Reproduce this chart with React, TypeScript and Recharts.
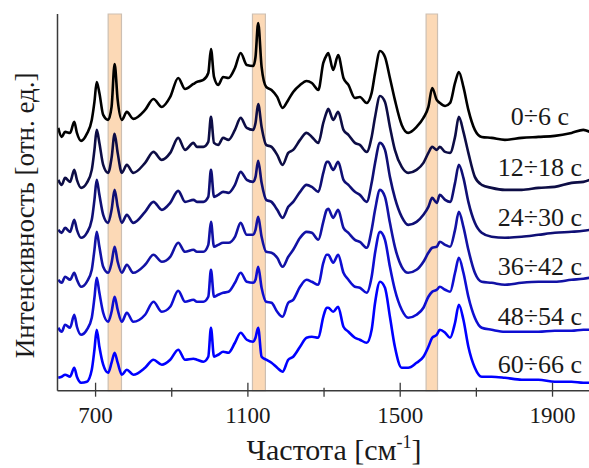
import { LineChart, Line, XAxis, YAxis, ReferenceArea, ReferenceDot } from "recharts";

// wavenumber grid, cm^-1
const WAVENUMBERS = [
  602, 611, 620, 633, 644, 651, 662, 677, 690, 697, 703, 710, 720, 733, 742, 750, 758, 769, 782, 799, 830, 852, 874, 896, 917, 935, 957,
  966, 983, 996, 1003, 1011, 1022, 1035, 1049, 1066, 1081, 1097, 1114, 1120, 1127, 1136, 1148, 1162, 1177, 1191, 1206, 1219, 1237, 1254, 1268, 1285, 1298, 1307,
  1311, 1324, 1337, 1351, 1364, 1381, 1394, 1412, 1425, 1434, 1447, 1460, 1473, 1486, 1504, 1521, 1543, 1561, 1574, 1584, 1596, 1604, 1618, 1631, 1644,
  1654, 1666, 1679, 1696, 1714, 1740, 1775, 1819, 1863, 1906, 1950, 1981, 1998,
];

// stacked spectra (offset intensity, arb. units)
const S_0_6 = [
  263, 254, 259, 258, 269, 258, 250, 257, 271, 289, 309, 298, 276, 271, 284, 327, 291, 271, 279, 272, 281, 292, 284, 294, 313, 302, 307,
  309, 311, 318, 342, 314, 306, 314, 313, 323, 338, 326, 325, 334, 368, 324, 304, 301, 294, 283, 291, 299, 306, 310, 308, 301, 328, 336,
  338, 321, 336, 313, 306, 293, 294, 288, 298, 318, 340, 334, 313, 291, 266, 258, 264, 273, 284, 303, 291, 288, 285, 288, 308,
  319, 304, 281, 261, 254, 253, 251, 253, 254, 255, 258, 261, 259,
];
const S_12_18 = [
  211, 206, 213, 209, 221, 211, 203, 208, 221, 241, 261, 248, 226, 218, 233, 257, 238, 218, 226, 218, 228, 239, 231, 238, 253, 241, 248,
  244, 244, 249, 274, 248, 246, 253, 251, 261, 273, 263, 261, 268, 287, 264, 246, 244, 236, 226, 238, 241, 251, 258, 254, 248, 268, 279,
  282, 271, 279, 261, 256, 248, 246, 239, 254, 274, 295, 289, 264, 241, 224, 218, 221, 228, 238, 244, 241, 244, 239, 238, 254,
  274, 259, 238, 214, 206, 203, 201, 201, 203, 204, 208, 209, 211,
];
const S_24_30 = [
  161, 158, 163, 159, 171, 161, 153, 158, 171, 191, 211, 196, 176, 168, 181, 201, 184, 168, 176, 168, 179, 189, 181, 188, 200, 189, 191,
  189, 189, 194, 221, 194, 196, 199, 198, 206, 219, 211, 209, 214, 230, 208, 191, 189, 181, 173, 184, 189, 199, 206, 204, 199, 218, 229,
  229, 221, 229, 211, 206, 199, 196, 189, 208, 228, 248, 241, 214, 193, 174, 166, 169, 176, 184, 193, 188, 196, 191, 189, 208,
  226, 213, 189, 168, 158, 154, 153, 154, 156, 158, 159, 160, 161,
];
const S_36_42 = [
  111, 108, 114, 111, 118, 111, 104, 109, 121, 141, 159, 144, 124, 118, 128, 144, 129, 118, 126, 118, 126, 136, 129, 134, 148, 139, 141,
  139, 139, 146, 169, 144, 146, 148, 148, 154, 168, 156, 156, 161, 174, 154, 139, 138, 133, 124, 134, 141, 153, 159, 158, 151, 169, 181,
  182, 173, 181, 163, 158, 151, 149, 143, 161, 181, 201, 194, 168, 144, 124, 118, 121, 129, 138, 143, 144, 149, 146, 144, 161,
  179, 164, 141, 118, 109, 108, 106, 108, 109, 109, 111, 112, 113,
];
const S_48_54 = [
  63, 59, 66, 63, 76, 64, 56, 61, 73, 93, 113, 98, 78, 69, 79, 94, 81, 69, 78, 69, 76, 89, 79, 84, 100, 89, 91,
  89, 89, 94, 121, 94, 96, 98, 99, 108, 118, 109, 108, 111, 124, 103, 89, 88, 79, 74, 88, 91, 104, 111, 109, 106, 128, 136,
  136, 128, 136, 118, 111, 104, 103, 98, 114, 138, 159, 151, 124, 101, 81, 73, 76, 83, 94, 99, 101, 104, 101, 99, 118,
  133, 118, 94, 73, 63, 61, 59, 59, 59, 60, 60, 61, 61,
];
const S_60_66 = [
  13, 14, 16, 14, 23, 14, 8, 9, 21, 41, 61, 44, 26, 18, 28, 38, 28, 16, 21, 16, 23, 31, 26, 31, 41, 31, 32,
  31, 29, 34, 63, 34, 36, 39, 38, 48, 58, 51, 49, 53, 63, 34, 31, 28, 23, 19, 31, 34, 44, 53, 54, 53, 74, 83,
  83, 79, 84, 64, 59, 53, 51, 48, 61, 88, 109, 103, 74, 44, 23, 23, 28, 34, 44, 53, 56, 61, 58, 53, 68,
  86, 71, 44, 23, 14, 14, 13, 11, 11, 9, 9, 8, 8,
];

const SERIES = [S_0_6, S_12_18, S_24_30, S_36_42, S_48_54, S_60_66];
const SERIES_LABELS = ["0÷6 с", "12÷18 с", "24÷30 с", "36÷42 с", "48÷54 с", "60÷66 с"];
const SERIES_COLORS = ["#000000", "#0d0d45", "#0f0f75", "#1212a5", "#0e0ed2", "#0000ff"];
const LABEL_X = 1867;
const LABEL_Y = [275, 224, 174, 125, 75, 27];

// highlighted bands, cm^-1
const BANDS = [
  [733, 768],
  [1112, 1146],
  [1568, 1598],
];

const X_TICKS = [700, 900, 1100, 1300, 1500, 1700, 1900];
const MAJOR_TICKS = [700, 1100, 1500, 1900];

const data = WAVENUMBERS.map((w, i) => {
  const row: Record<string, number> = { w };
  SERIES.forEach((s, k) => {
    row[`s${k}`] = s[i];
  });
  return row;
});

const FONT = "'Liberation Serif', 'Times New Roman', 'DejaVu Serif', serif";
const AXIS = "#3a3a3a";
const TEXT = "#1a1a1a";

function BottomTick({ x, y, payload }: any) {
  const major = MAJOR_TICKS.includes(payload.value);
  return (
    <g>
      <line x1={x} x2={x} y1={y - (major ? 8 : 3)} y2={y + 6} stroke={AXIS} strokeWidth={1.3} />
      {major && (
        <text x={x} y={y + 32} textAnchor="middle" style={{ fontFamily: FONT }} fontSize={23} fill={TEXT}>
          {payload.value}
        </text>
      )}
    </g>
  );
}

function TopTick({ x, y, payload }: any) {
  const major = MAJOR_TICKS.includes(payload.value);
  return <line x1={x} x2={x} y1={y} y2={y + (major ? 8 : 3)} stroke={AXIS} strokeWidth={1.3} />;
}

export default function App() {
  return (
    <div style={{ position: "absolute", left: 0, top: 0, width: 589, height: 468, overflow: "hidden", background: "#fff" }}>
      <LineChart width={600} height={468} data={data} margin={{ top: 14, right: 9.4, left: 0, bottom: 47.3 }}>
        {BANDS.map(([a, b]) => (
          <ReferenceArea
            key={a}
            x1={a}
            x2={b}
            fill="#fcd9b6"
            fillOpacity={1}
            stroke="#cdbfb2"
            strokeWidth={1.2}
          />
        ))}
        <XAxis
          dataKey="w"
          type="number"
          domain={[600, 2000]}
          ticks={X_TICKS}
          allowDataOverflow
          height={30}
          tickSize={0}
          tickMargin={0}
          tickLine={false}
          tick={<BottomTick />}
          axisLine={{ stroke: AXIS, strokeWidth: 1.5 }}
          label={{
            content: ({ viewBox }: any) => (
              <text
                x={viewBox.x + viewBox.width / 2 + 10}
                y={viewBox.y + 69}
                textAnchor="middle"
                style={{ fontFamily: FONT }}
                fontSize={30}
                fill={TEXT}
              >
                <tspan>Частота [см</tspan>
                <tspan dy={-12} fontSize={18}>-1</tspan>
                <tspan dy={12}>]</tspan>
              </text>
            ),
          }}
        />
        <XAxis
          xAxisId="top"
          orientation="top"
          dataKey="w"
          type="number"
          domain={[600, 2000]}
          ticks={X_TICKS}
          height={0}
          tickSize={0}
          tickMargin={0}
          tickLine={false}
          tick={<TopTick />}
          axisLine={{ stroke: AXIS, strokeWidth: 1.5 }}
        />
        <YAxis
          type="number"
          domain={[0, 377]}
          width={57.5}
          tick={false}
          tickLine={false}
          axisLine={{ stroke: AXIS, strokeWidth: 1.5 }}
          label={{
            content: ({ viewBox }: any) => {
              const cx = viewBox.x + 34;
              const cy = viewBox.y + viewBox.height / 2 + 13;
              return (
                <text
                  x={cx}
                  y={cy}
                  transform={`rotate(-90, ${cx}, ${cy})`}
                  textAnchor="middle"
                  style={{ fontFamily: FONT }}
                  fontSize={27}
                  fill={TEXT}
                >
                  Интенсивность [отн. ед.]
                </text>
              );
            },
          }}
        />
        {SERIES.map((_, k) => (
          <Line
            key={k}
            dataKey={`s${k}`}
            type="monotone"
            stroke={SERIES_COLORS[k]}
            strokeWidth={2.6}
            strokeLinejoin="round"
            dot={false}
            activeDot={false}
            isAnimationActive={false}
          />
        ))}
        {SERIES_LABELS.map((t, k) => (
          <ReferenceDot
            key={t}
            x={LABEL_X}
            y={LABEL_Y[k]}
            r={0}
            fill="none"
            stroke="none"
            label={{ value: t, position: "center", fontFamily: FONT, fontSize: 26, fill: TEXT }}
          />
        ))}
      </LineChart>
    </div>
  );
}
